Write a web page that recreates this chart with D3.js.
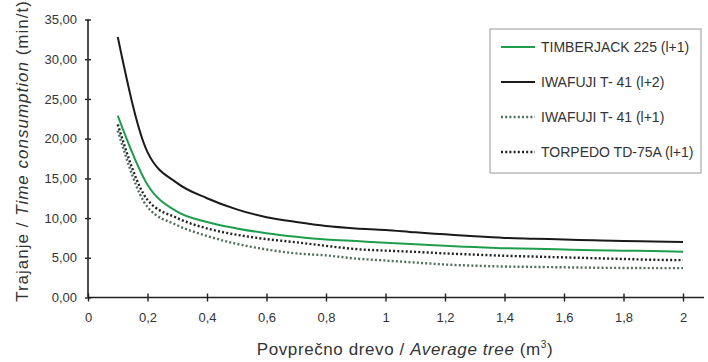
<!DOCTYPE html>
<html>
<head>
<meta charset="utf-8">
<script src="https://cdn.jsdelivr.net/npm/d3@7"></script>
<style>
  body { margin: 0; background: #fff; }
  svg { display: block; font-family: Arial, "Liberation Sans", sans-serif; }
</style>
</head>
<body>
<div id="chart"></div>
<script>
const xValues = [0.1, 0.2, 0.3, 0.4, 0.5, 0.6, 0.7, 0.8, 0.9, 1.0, 1.1, 1.2, 1.3, 1.4, 1.5, 1.6, 1.7, 1.8, 1.9, 2.0];
const timberjack = [22.9, 14.2, 10.8, 9.5, 8.7, 8.1, 7.65, 7.3, 7.1, 6.9, 6.7, 6.5, 6.35, 6.2, 6.15, 6.05, 5.95, 5.9, 5.85, 5.75];
const iwafujiL2 = [32.8, 18.3, 14.4, 12.5, 11.1, 10.1, 9.5, 9.0, 8.7, 8.5, 8.2, 7.95, 7.7, 7.5, 7.4, 7.3, 7.2, 7.1, 7.05, 7.0];
const iwafujiL1 = [21.0, 11.4, 9.1, 7.75, 6.75, 6.05, 5.55, 5.3, 4.9, 4.65, 4.4, 4.15, 4.0, 3.9, 3.85, 3.8, 3.75, 3.72, 3.7, 3.7];
const torpedo = [21.8, 12.3, 10.0, 8.7, 7.9, 7.35, 6.95, 6.5, 6.1, 5.9, 5.75, 5.55, 5.4, 5.25, 5.15, 5.05, 4.95, 4.85, 4.75, 4.7];
const seriesNames = ['TIMBERJACK 225 (l+1)', 'IWAFUJI T- 41 (l+2)', 'IWAFUJI T- 41 (l+1)', 'TORPEDO TD-75A (l+1)'];
const xTicks = [0, 0.2, 0.4, 0.6, 0.8, 1, 1.2, 1.4, 1.6, 1.8, 2];
const yTicks = [0, 5, 10, 15, 20, 25, 30, 35];

const width = 708, height = 362;
const margin = { left: 88, right: 25, top: 19.5, bottom: 64.5 };

const styles = [
  { stroke: '#1e9e4c', width: 2, dash: null },
  { stroke: '#1a1a1a', width: 2, dash: null },
  { stroke: '#4f6f5c', width: 2.4, dash: '2,2.2' },
  { stroke: '#222', width: 2.4, dash: '2,2.2' }
];
const series = [timberjack, iwafujiL2, iwafujiL1, torpedo];

const svg = d3.select('#chart').append('svg').attr('width', width).attr('height', height);

const x = d3.scaleLinear().domain([0, 2]).range([margin.left, width - margin.right]);
const y = d3.scaleLinear().domain([0, 35]).range([height - margin.bottom, margin.top]);

const comma = (v, d) => d3.format(`.${d}f`)(v).replace('.', ',');

// x axis
const xAxis = svg.append('g')
  .attr('transform', `translate(0,${y(0)})`)
  .call(d3.axisBottom(x).tickValues(xTicks).tickSize(4).tickSizeOuter(0)
    .tickFormat((d) => (d === 0 || d === 1 || d === 2 ? d : comma(d, 1))));
xAxis.select('.domain').remove();
xAxis.append('line').attr('x1', x(0)).attr('x2', width - 4).attr('stroke', '#222').attr('stroke-width', 1.6);
xAxis.selectAll('.tick line').attr('y1', -4).attr('stroke', '#222').attr('stroke-width', 1.4);
xAxis.selectAll('.tick text').attr('y', 15).attr('font-size', 13).attr('fill', '#333').attr('font-family', 'Arial');

// y axis
const yAxis = svg.append('g')
  .attr('transform', `translate(${x(0)},0)`)
  .call(d3.axisLeft(y).tickValues(yTicks).tickSize(3).tickSizeOuter(0).tickFormat((d) => comma(d, 2)));
yAxis.select('.domain').remove();
yAxis.append('line').attr('y1', y(35)).attr('y2', y(0)).attr('stroke', '#222').attr('stroke-width', 1.6);
yAxis.selectAll('.tick line').attr('x2', 3).attr('x1', -3).attr('stroke', '#222').attr('stroke-width', 1.4);
yAxis.selectAll('.tick text').attr('x', -11).attr('font-size', 13).attr('fill', '#333').attr('font-family', 'Arial');

// lines
const line = d3.line()
  .x((d) => x(d[0]))
  .y((d) => y(d[1]))
  .curve(d3.curveMonotoneX);

[3, 2, 0, 1].forEach((i) => {
  svg.append('path')
    .datum(xValues.map((v, j) => [v, series[i][j]]))
    .attr('d', line)
    .attr('fill', 'none')
    .attr('stroke', styles[i].stroke)
    .attr('stroke-width', styles[i].width)
    .attr('stroke-dasharray', styles[i].dash);
});

// legend
const legend = svg.append('g');
legend.append('rect')
  .attr('x', 490).attr('y', 29).attr('width', 211).attr('height', 144)
  .attr('fill', '#fff').attr('stroke', '#999').attr('stroke-width', 1);
seriesNames.forEach((name, i) => {
  const ly = 47 + i * 35;
  legend.append('line')
    .attr('x1', 501).attr('x2', 535).attr('y1', ly).attr('y2', ly)
    .attr('stroke', styles[i].stroke)
    .attr('stroke-width', styles[i].width)
    .attr('stroke-dasharray', styles[i].dash);
  legend.append('text')
    .attr('x', 541).attr('y', ly).attr('dy', '0.35em')
    .attr('font-size', 14).attr('fill', '#333')
    .text(name);
});

// axis titles
const yTitle = svg.append('text')
  .attr('transform', `translate(28,151) rotate(-90)`)
  .attr('text-anchor', 'middle')
  .attr('font-size', 17).attr('letter-spacing', 1).attr('fill', '#333');
yTitle.append('tspan').text('Trajanje / ');
yTitle.append('tspan').attr('font-style', 'italic').text('Time consumption');
yTitle.append('tspan').text(' (min/t)');

const xTitle = svg.append('text')
  .attr('x', 405).attr('y', 355)
  .attr('text-anchor', 'middle')
  .attr('font-size', 17).attr('letter-spacing', 0.6).attr('fill', '#333');
xTitle.append('tspan').text('Povprečno drevo / ');
xTitle.append('tspan').attr('font-style', 'italic').text('Average tree');
xTitle.append('tspan').text(' (m');
xTitle.append('tspan').attr('font-size', 10).attr('dy', -7).text('3');
xTitle.append('tspan').attr('dy', 7).text(')');
</script>
</body>
</html>
